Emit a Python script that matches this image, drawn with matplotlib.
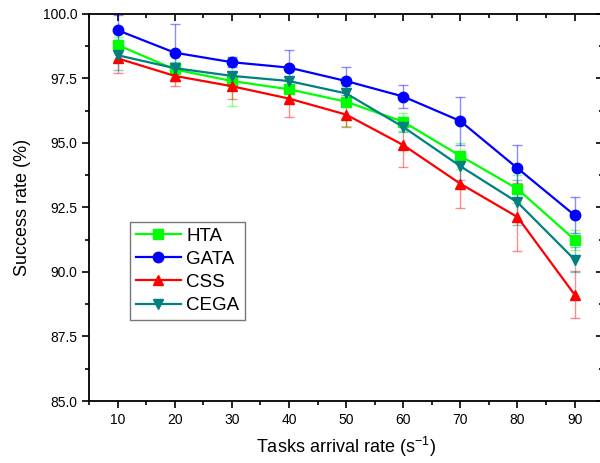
import matplotlib
matplotlib.use("Agg")
import matplotlib.pyplot as plt
from matplotlib.ticker import MultipleLocator

plt.rcParams['font.family'] = ['Liberation Sans', 'DejaVu Sans']
plt.rcParams['mathtext.fontset'] = 'custom'
plt.rcParams['mathtext.rm'] = 'Liberation Sans'
plt.rcParams['mathtext.it'] = 'Liberation Sans'

# arrival rates (tasks per second)
rates = [10, 20, 30, 40, 50, 60, 70, 80, 90]

# success rate (%) per algorithm
hta = [98.8, 97.85, 97.4, 97.08, 96.6, 95.82, 94.5, 93.22, 91.25]
gata = [99.37, 98.5, 98.13, 97.92, 97.4, 96.8, 95.85, 94.02, 92.2]
css = [98.28, 97.6, 97.2, 96.72, 96.1, 94.92, 93.42, 92.13, 89.12]
cega = [98.4, 97.9, 97.6, 97.4, 96.92, 95.62, 94.1, 92.7, 90.48]

# standard deviations
hta_err = [0.3, 0.3, 0.95, 0.2, 0.95, 0.35, 0.5, 0.55, 0.38]
gata_err = [0.6, 1.1, 0.2, 0.7, 0.55, 0.43, 0.92, 0.9, 0.7]
css_err = [0.55, 0.38, 0.5, 0.7, 0.5, 0.85, 0.95, 1.33, 0.92]
cega_err = [0.58, 0.2, 0.15, 0.15, 0.3, 0.2, 0.55, 0.88, 0.47]

series = [
    ("HTA", hta, hta_err, "#00ff00", "s"),
    ("GATA", gata, gata_err, "#0000ff", "o"),
    ("CSS", css, css_err, "#ff0000", "^"),
    ("CEGA", cega, cega_err, "#008080", "v"),
]

fig = plt.figure(figsize=(6, 4.63), dpi=100)
ax = fig.add_axes([0.1483, 0.1339, 0.857, 0.836])

handles = []
for name, vals, err, col, mk in series:
    ax.errorbar(rates, vals, yerr=err, fmt="none", ecolor=col, alpha=0.45,
                elinewidth=1.0, capsize=3.5, capthick=1.0, zorder=2)
    h, = ax.plot(rates, vals, color=col, marker=mk, markersize=7.5,
                 linewidth=1.6, label=name, zorder=3)
    handles.append(h)

ax.set_xlim(5, 95)
ax.set_ylim(85, 100)
ax.xaxis.set_major_locator(MultipleLocator(10))
ax.xaxis.set_minor_locator(MultipleLocator(5))
ax.yaxis.set_major_locator(MultipleLocator(2.5))
ax.yaxis.set_minor_locator(MultipleLocator(1.25))
ax.yaxis.set_major_formatter(plt.FormatStrFormatter("%.1f"))

ax.tick_params(which="both", direction="out", labelsize=10, width=1.2,
               top=True, right=True)
ax.tick_params(which="major", length=5)
ax.tick_params(which="minor", length=3)
# top and right ticks point inward
for t in ax.xaxis.get_major_ticks() + ax.xaxis.get_minor_ticks():
    t.tick2line.set_marker(3)
for t in ax.yaxis.get_major_ticks() + ax.yaxis.get_minor_ticks():
    t.tick2line.set_marker(0)

for sp in ax.spines.values():
    sp.set_linewidth(1.3)

ax.set_xlabel("Tasks arrival rate (s$^{-1}$)", fontsize=13, labelpad=6)
ax.set_ylabel("Success rate (%)", fontsize=13, labelpad=8)

leg = ax.legend(handles=handles, loc="upper left",
                bbox_to_anchor=(0.080, 0.4625), borderaxespad=0,
                fontsize=13.5, handlelength=2.4, handletextpad=0.3,
                labelspacing=0.32, borderpad=0.3, fancybox=False,
                framealpha=1)
leg.get_frame().set_edgecolor("#777777")
leg.get_frame().set_linewidth(1.0)

fig.savefig("out.png", dpi=100)
